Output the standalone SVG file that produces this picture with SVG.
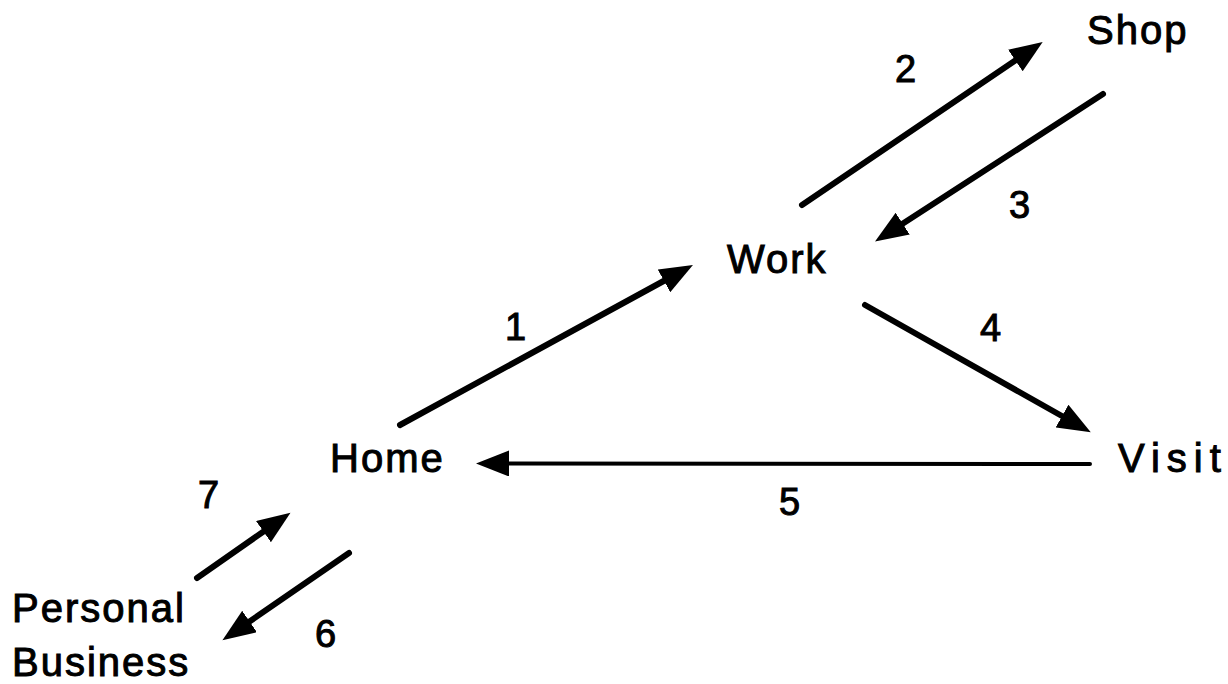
<svg xmlns="http://www.w3.org/2000/svg" width="1228" height="684" viewBox="0 0 1228 684">
<style>
.lbl{font-family:"Liberation Sans",Arial,sans-serif;font-size:40px;fill:#000;stroke:#000;stroke-width:1;letter-spacing:2px}
.num{font-family:"Liberation Sans",Arial,sans-serif;font-size:38px;fill:#000;stroke:#000;stroke-width:1}
.c{stroke:#000;stroke-width:6;stroke-linecap:round;fill:none;marker-end:url(#ah)}
</style>
<defs>
<marker id="ah" markerUnits="userSpaceOnUse" markerWidth="34" markerHeight="26" refX="8" refY="13" orient="auto" viewBox="0 0 34 26">
<path d="M0,0 L33,13 L0,26 z" fill="#000"/>
</marker>
</defs>
<rect width="1228" height="684" fill="#fff"/>
<g id="connectors">
<line class="c" x1="400" y1="425" x2="671" y2="277"/>
<line class="c" x1="802" y1="205" x2="1022" y2="56"/>
<line class="c" x1="1103" y1="94" x2="896" y2="228"/>
<line class="c" x1="865" y1="305" x2="1069" y2="420"/>
<line class="c" style="stroke-width:4" x1="1090" y1="464" x2="501" y2="463.5"/>
<line class="c" x1="349" y1="553" x2="243" y2="626"/>
<line class="c" x1="197" y1="578" x2="270" y2="527"/>
<text class="num" x="505" y="340">1</text>
<text class="num" x="895" y="82">2</text>
<text class="num" x="1009" y="218">3</text>
<text class="num" x="980" y="341">4</text>
<text class="num" x="779" y="515">5</text>
<text class="num" x="315" y="647">6</text>
<text class="num" x="198" y="508">7</text>
</g>
<g id="node-shop"><text class="lbl" x="1087" y="44">Shop</text></g>
<g id="node-work"><text class="lbl" x="727" y="273">Work</text></g>
<g id="node-home"><text class="lbl" x="330" y="472">Home</text></g>
<g id="node-visit"><text class="lbl" x="1118" y="472" style="letter-spacing:7px">Visit</text></g>
<g id="node-personal-business"><text class="lbl" x="12" y="622">Personal</text><text class="lbl" x="12" y="676">Business</text></g>
</svg>
